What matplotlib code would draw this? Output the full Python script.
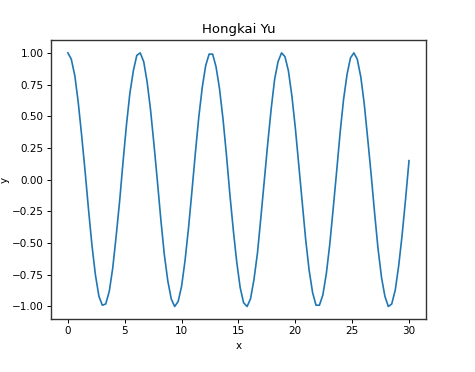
import matplotlib
matplotlib.use("Agg")
import matplotlib.pyplot as plt

title = "Hongkai Yu"
x_label = "x"
y_label = "y"

x_values = [
    0.00, 0.30, 0.61, 0.91, 1.21, 1.52, 1.82, 2.12, 2.42, 2.73,
    3.03, 3.33, 3.64, 3.94, 4.24, 4.55, 4.85, 5.15, 5.45, 5.76,
    6.06, 6.36, 6.67, 6.97, 7.27, 7.58, 7.88, 8.18, 8.48, 8.79,
    9.09, 9.39, 9.70, 10.00, 10.30, 10.61, 10.91, 11.21, 11.52, 11.82,
    12.12, 12.42, 12.73, 13.03, 13.33, 13.64, 13.94, 14.24, 14.55, 14.85,
    15.15, 15.45, 15.76, 16.06, 16.36, 16.67, 16.97, 17.27, 17.58, 17.88,
    18.18, 18.48, 18.79, 19.09, 19.39, 19.70, 20.00, 20.30, 20.61, 20.91,
    21.21, 21.52, 21.82, 22.12, 22.42, 22.73, 23.03, 23.33, 23.64, 23.94,
    24.24, 24.55, 24.85, 25.15, 25.45, 25.76, 26.06, 26.36, 26.67, 26.97,
    27.27, 27.58, 27.88, 28.18, 28.48, 28.79, 29.09, 29.39, 29.70, 30.00,
]

y_values = [
    1.00, 0.95, 0.82, 0.61, 0.35, 0.06, -0.24, -0.52, -0.75, -0.92,
    -0.99, -0.98, -0.88, -0.70, -0.45, -0.17, 0.14, 0.43, 0.68, 0.86,
    0.98, 1.00, 0.93, 0.77, 0.55, 0.27, -0.02, -0.32, -0.59, -0.80,
    -0.94, -1.00, -0.96, -0.84, -0.64, -0.38, -0.09, 0.21, 0.50, 0.73,
    0.90, 0.99, 0.99, 0.89, 0.72, 0.48, 0.20, -0.11, -0.40, -0.65,
    -0.85, -0.97, -1.00, -0.94, -0.79, -0.58, -0.30, -0.01, 0.29, 0.56,
    0.79, 0.93, 1.00, 0.97, 0.86, 0.66, 0.41, 0.12, -0.18, -0.47,
    -0.71, -0.89, -0.99, -0.99, -0.91, -0.74, -0.51, -0.23, 0.07, 0.37,
    0.63, 0.83, 0.96, 1.00, 0.95, 0.81, 0.60, 0.33, 0.04, -0.26,
    -0.54, -0.77, -0.92, -1.00, -0.98, -0.87, -0.68, -0.44, -0.15, 0.15,
]

fig = plt.figure(figsize=(4.75, 3.72), dpi=100)
ax = fig.add_axes([0.107, 0.142, 0.790, 0.750])
ax.plot(x_values, y_values, color="#1f77b4", linewidth=1.2)
ax.set_title(title, fontsize=9.5, pad=5)
ax.set_xlabel(x_label, fontsize=7.5, labelpad=3)
ax.set_ylabel(y_label, fontsize=7.5, labelpad=1.5)
ax.tick_params(labelsize=7.5, length=2.6, width=0.7, pad=2.6)
ax.set_xticks([0, 5, 10, 15, 20, 25, 30])
ax.set_yticks([-1.0, -0.75, -0.5, -0.25, 0.0, 0.25, 0.5, 0.75, 1.0])
for s in ax.spines.values():
    s.set_linewidth(1.0)
    s.set_color("#333333")
fig.savefig("out.png", dpi=100)
